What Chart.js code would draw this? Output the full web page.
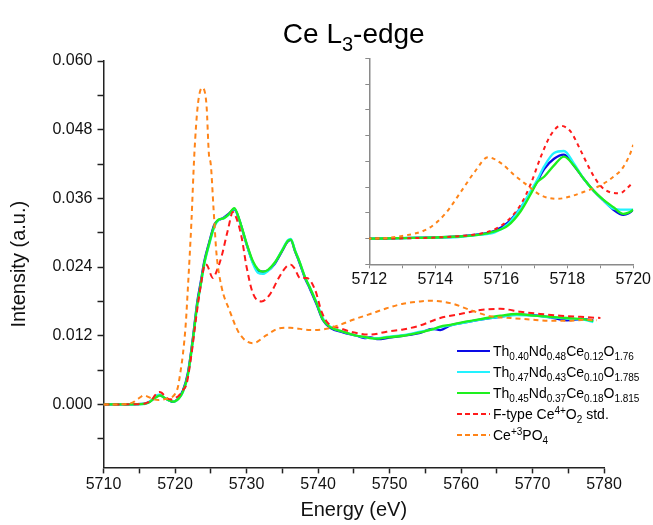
<!DOCTYPE html>
<html><head><meta charset="utf-8">
<script src="https://cdn.jsdelivr.net/npm/chart.js@4.4.1/dist/chart.umd.min.js"></script>
<style>
html,body{margin:0;padding:0;overflow:hidden;background:#fff}
#wrap{position:relative;width:653px;height:525px}
canvas{position:absolute;left:0;top:0}
</style>
</head><body>
<div id="wrap"><canvas id="main" width="653" height="525"></canvas><canvas id="inset" width="653" height="525"></canvas></div>
<script>
// ---------------- data ----------------
const sampleEnergy = [5710,5712,5713,5714,5714.7,5715.3,5715.8,5716.2,5716.6,5716.9,5717.1,5717.3,5717.6,5717.9,5718.2,5718.5,5718.8,5719.1,5719.4,5719.7,5720.0,5720.5,5721.1,5721.8,5722.5,5723.1,5723.6,5724.1,5724.8,5725.5,5726.1,5726.8,5727.5,5728.3,5729.0,5730.0,5730.9,5731.6,5732.3,5733.0,5733.9,5734.9,5735.8,5736.2,5736.8,5737.4,5738.2,5738.8,5739.8,5740.7,5741.7,5743.5,5745.4,5746.5,5747.3,5748.5,5749.6,5751.9,5754.3,5756.0,5757.1,5758.5,5760.8,5763.6,5765.5,5767.8,5770.1,5772.5,5774.8,5777.1,5778.5];
const th040 = [0,0,0.00001,0.00002,0.00004,0.00008,0.00015,0.00031,0.00061,0.0009,0.00112,0.00135,0.00155,0.00163,0.00142,0.00116,0.00093,0.00074,0.00056,0.00046,0.00056,0.0011,0.0024,0.0055,0.0116,0.0178,0.0214,0.025,0.0284,0.0314,0.0322,0.0326,0.0333,0.0341,0.0322,0.028,0.0248,0.0234,0.0232,0.0234,0.0245,0.0266,0.0285,0.0287,0.0267,0.0248,0.022,0.0204,0.0175,0.0147,0.0134,0.0126,0.012,0.0116,0.0117,0.0114,0.0116,0.012,0.0125,0.0132,0.013,0.0138,0.0144,0.015,0.0153,0.0157,0.0156,0.0152,0.0147,0.0149,0.0147];
const th047 = [0,0,0.00001,0.00002,0.00003,0.00007,0.00012,0.00028,0.00061,0.00093,0.00115,0.0014,0.00166,0.0017,0.00146,0.00116,0.00093,0.00074,0.00058,0.00056,0.00056,0.001,0.0021,0.005,0.011,0.0172,0.0208,0.0245,0.028,0.031,0.0322,0.0325,0.0331,0.0342,0.0322,0.0281,0.0246,0.023,0.0228,0.0233,0.0246,0.0268,0.0287,0.0289,0.0269,0.025,0.0222,0.0206,0.0178,0.015,0.0136,0.0127,0.012,0.0117,0.0116,0.0116,0.0118,0.0121,0.0127,0.0131,0.0135,0.0138,0.0144,0.015,0.0153,0.0156,0.0155,0.0152,0.015,0.0148,0.0144];
const th045 = [0,0,0.00001,0.00002,0.00004,0.00007,0.00014,0.00025,0.00054,0.00087,0.0011,0.0012,0.00142,0.00159,0.00142,0.00116,0.00093,0.00075,0.00061,0.00048,0.00056,0.001,0.0022,0.0052,0.0113,0.0174,0.021,0.0247,0.0282,0.0312,0.0323,0.0325,0.0332,0.0343,0.0323,0.0282,0.025,0.0236,0.0232,0.0235,0.0247,0.0267,0.0286,0.0288,0.0268,0.025,0.0222,0.0206,0.0177,0.0148,0.0135,0.0127,0.012,0.0118,0.0116,0.0115,0.0117,0.012,0.0126,0.0131,0.0136,0.0139,0.0145,0.0151,0.0155,0.0158,0.0155,0.0153,0.0151,0.0149,0.0146];

const ceo2Energy = [5710,5712,5714,5714.8,5715.4,5715.8,5716.2,5716.6,5716.9,5717.2,5717.5,5717.8,5718.1,5718.4,5718.7,5719.0,5719.3,5719.6,5719.8,5720.0,5720.5,5721.1,5721.6,5722.3,5723.0,5723.7,5724.2,5724.5,5725.3,5725.8,5726.5,5727.4,5728.1,5728.6,5729.3,5730.0,5730.9,5732.1,5733.2,5734.6,5735.6,5736.2,5736.7,5737.5,5738.4,5739.6,5740.5,5741.4,5743.1,5744.9,5747.3,5749.6,5751.9,5754.3,5757.1,5759.9,5762.7,5765.5,5768.3,5771.1,5773.9,5776.7,5779.5];
const ceo2 = [0,0,0.00002,0.00005,0.0001,0.00018,0.00035,0.00067,0.00107,0.00159,0.00201,0.00219,0.00208,0.00172,0.00133,0.00103,0.0009,0.00088,0.00097,0.0011,0.0015,0.0025,0.0035,0.0087,0.0156,0.0215,0.0245,0.0243,0.0221,0.0232,0.0258,0.0305,0.0336,0.0325,0.0293,0.0241,0.0194,0.018,0.0191,0.0223,0.0241,0.0244,0.0238,0.0221,0.0221,0.02,0.0162,0.0142,0.0133,0.0126,0.0122,0.0127,0.0131,0.0138,0.0151,0.0158,0.0165,0.0167,0.0162,0.0158,0.0155,0.0153,0.0151];

const cepo4Energy = [5710,5712,5713,5713.8,5714.3,5714.8,5715.2,5715.6,5716.0,5716.4,5716.8,5717.2,5717.7,5718.1,5718.6,5719.0,5719.4,5719.7,5720.0,5720.4,5720.8,5721.1,5721.5,5721.8,5722.3,5722.7,5723.2,5723.8,5724.4,5724.75,5725.0,5725.4,5725.8,5726.5,5727.6,5729.0,5730.9,5732.8,5734.6,5736.1,5738.9,5740.7,5742.6,5744.9,5747.3,5749.6,5751.9,5754.3,5755.7,5758.5,5761.3,5764.1,5766.9,5770.1,5772.5,5774.8,5777.6,5779.0];
const cepo4 = [0,0,0.00005,0.0002,0.00048,0.00093,0.0013,0.00158,0.00146,0.00123,0.00103,0.00084,0.00077,0.00082,0.00093,0.00103,0.0012,0.00139,0.00182,0.003,0.006,0.0087,0.014,0.0203,0.032,0.0436,0.0524,0.0553,0.0524,0.0436,0.042,0.034,0.0264,0.0206,0.0165,0.0124,0.0107,0.0121,0.0133,0.0134,0.013,0.0131,0.0137,0.0148,0.0158,0.0168,0.0176,0.018,0.0181,0.0177,0.0165,0.0154,0.0151,0.0148,0.0146,0.0146,0.0148,0.0147];

const xTickLabels = [5710,5720,5730,5740,5750,5760,5770,5780];
const yTickLabels = ['0.000','0.012','0.024','0.036','0.048','0.060'];
const insetXTickLabels = [5712,5714,5716,5718,5720];

const titleText = [{t:'Ce L'},{t:'3',s:'sub'},{t:'-edge'}];
const seriesNames = [
  [{t:'Th'},{t:'0.40',s:'sub'},{t:'Nd'},{t:'0.48',s:'sub'},{t:'Ce'},{t:'0.12',s:'sub'},{t:'O'},{t:'1.76',s:'sub'}],
  [{t:'Th'},{t:'0.47',s:'sub'},{t:'Nd'},{t:'0.43',s:'sub'},{t:'Ce'},{t:'0.10',s:'sub'},{t:'O'},{t:'1.785',s:'sub'}],
  [{t:'Th'},{t:'0.45',s:'sub'},{t:'Nd'},{t:'0.37',s:'sub'},{t:'Ce'},{t:'0.18',s:'sub'},{t:'O'},{t:'1.815',s:'sub'}],
  [{t:'F-type Ce'},{t:'4+',s:'sup'},{t:'O'},{t:'2',s:'sub'},{t:' std.'}],
  [{t:'Ce'},{t:'+3',s:'sup'},{t:'PO'},{t:'4',s:'sub'}]
];
const seriesColors = ['#0a0ae6','#22f2ff','#1ef01e','#ff1a1a','#ff8418'];

// ---------------- helpers ----------------
const FF = '"Liberation Sans", Arial, sans-serif';
function pts(xs, ys){ return xs.map((x,i)=>({x:x, y:ys[i]})); }
function drawRich(ctx, segs, x, y, size, align){
  const sub = Math.round(size*0.7);
  let w = 0;
  segs.forEach(s=>{ ctx.font = (s.s? sub: size)+'px '+FF; w += ctx.measureText(s.t).width; });
  let cx = align==='center' ? x - w/2 : x;
  ctx.textBaseline = 'alphabetic'; ctx.textAlign = 'left';
  segs.forEach(s=>{
    ctx.font = (s.s? sub: size)+'px '+FF;
    const dy = s.s==='sub' ? size*0.3 : (s.s==='sup' ? -size*0.38 : 0);
    ctx.fillText(s.t, cx, y+dy);
    cx += ctx.measureText(s.t).width;
  });
}
function isIn(v, list){ return list.some(l=>Math.abs(parseFloat(l)-v)<1e-7); }

function makeDatasets(inset){
  const lw = 2;
  const dashR = inset ? [4,4] : [6,4];
  const dashO = inset ? [4,4] : [5,4];
  return [
    {label:'Ce+3PO4', data:pts(cepo4Energy,cepo4), borderColor:seriesColors[4], borderWidth:lw, borderDash:dashO},
    {label:'F-type Ce4+O2 std.', data:pts(ceo2Energy,ceo2), borderColor:seriesColors[3], borderWidth:lw, borderDash:dashR},
    {label:'Th0.45Nd0.37Ce0.18O1.815', data:pts(sampleEnergy,th045), borderColor:seriesColors[2], borderWidth:lw+0.3},
    {label:'Th0.47Nd0.43Ce0.10O1.785', data:pts(sampleEnergy,th047), borderColor:seriesColors[1], borderWidth:lw+0.3},
    {label:'Th0.40Nd0.48Ce0.12O1.76', data:pts(sampleEnergy,th040), borderColor:seriesColors[0], borderWidth:lw+0.3}
  ].map(d=>Object.assign(d,{pointRadius:0, fill:false, cubicInterpolationMode:'monotone'}));
}

const decorPlugin = {
  id:'decor',
  afterDraw(chart){
    const ctx = chart.ctx;
    ctx.save();
    ctx.fillStyle = '#000';
    const a = chart.chartArea;
    drawRich(ctx, titleText, (a.left+a.right)/2, 43, 28, 'center');
    // legend
    const rows = [351,372,393,414,435];
    rows.forEach((y,i)=>{
      ctx.beginPath();
      ctx.strokeStyle = seriesColors[i];
      ctx.lineWidth = 2;
      ctx.setLineDash(i<3 ? [] : [5,3]);
      ctx.moveTo(457,y); ctx.lineTo(490,y); ctx.stroke();
      ctx.setLineDash([]);
      ctx.fillStyle = '#000';
      drawRich(ctx, seriesNames[i], 493, y+5, 14, 'left');
    });
    ctx.restore();
  }
};

// ---------------- main chart ----------------
new Chart(document.getElementById('main'), {
  type:'line',
  data:{datasets: makeDatasets(false)},
  options:{
    responsive:false, animation:false, devicePixelRatio:1,
    layout:{padding:{left:0, top:61, right:49, bottom:0}},
    plugins:{legend:{display:false}, tooltip:{enabled:false}, title:{display:false}},
    scales:{
      x:{
        type:'linear', min:5710, max:5780,
        afterFit(s){ s.height = 57.6; },
        border:{display:true, color:'#222', width:1.5},
        grid:{display:true, drawOnChartArea:false, drawTicks:true, tickLength:6, color:'#222', tickWidth:1.5},
        ticks:{stepSize:5, autoSkip:false, maxRotation:0, padding:2, color:'#111',
          font:{family:FF, size:16},
          callback:(v)=> isIn(v, xTickLabels) ? String(v) : ''},
        title:{display:true, text:'Energy (eV)', color:'#111', font:{family:FF, size:20}, padding:{top:0,bottom:3}}
      },
      y:{
        type:'linear', min:-0.011, max:0.06,
        afterFit(s){ s.width = 103.5; },
        border:{display:true, color:'#222', width:1.5},
        grid:{display:true, drawOnChartArea:false, drawTicks:true, tickLength:6, color:'#222', tickWidth:1.5},
        ticks:{stepSize:0.006, includeBounds:false, autoSkip:false, padding:5, color:'#111',
          font:{family:FF, size:16},
          callback:(v)=> isIn(v, yTickLabels) ? v.toFixed(3) : ''},
        title:{display:true, text:'Intensity (a.u.)', color:'#111', font:{family:FF, size:20}, padding:{top:7,bottom:0}}
      }
    }
  },
  plugins:[decorPlugin]
});

// ---------------- inset chart ----------------
new Chart(document.getElementById('inset'), {
  type:'line',
  data:{datasets: makeDatasets(true)},
  options:{
    responsive:false, animation:false, devicePixelRatio:1,
    layout:{padding:{left:330, top:58.3, right:17.7, bottom:0}},
    plugins:{legend:{display:false}, tooltip:{enabled:false}, title:{display:false}},
    scales:{
      x:{
        type:'linear', min:5712, max:5720,
        afterFit(s){ s.height = 260.7; },
        border:{display:true, color:'#8a8a8a', width:1.5},
        grid:{display:true, drawOnChartArea:false, drawTicks:true, tickLength:4, color:'#8a8a8a', tickWidth:1},
        ticks:{stepSize:1, autoSkip:false, maxRotation:0, padding:2, color:'#111',
          font:{family:FF, size:16},
          callback:(v)=> isIn(v, insetXTickLabels) ? String(v) : ''}
      },
      y:{
        type:'linear', min:-0.0005, max:0.0035,
        afterFit(s){ s.width = 39.3; },
        border:{display:true, color:'#8a8a8a', width:1.5},
        grid:{display:true, drawOnChartArea:false, drawTicks:true, tickLength:4, color:'#8a8a8a', tickWidth:1},
        ticks:{stepSize:0.0005, autoSkip:false, padding:0, callback:()=>''}
      }
    }
  }
});
</script>
</body></html>
